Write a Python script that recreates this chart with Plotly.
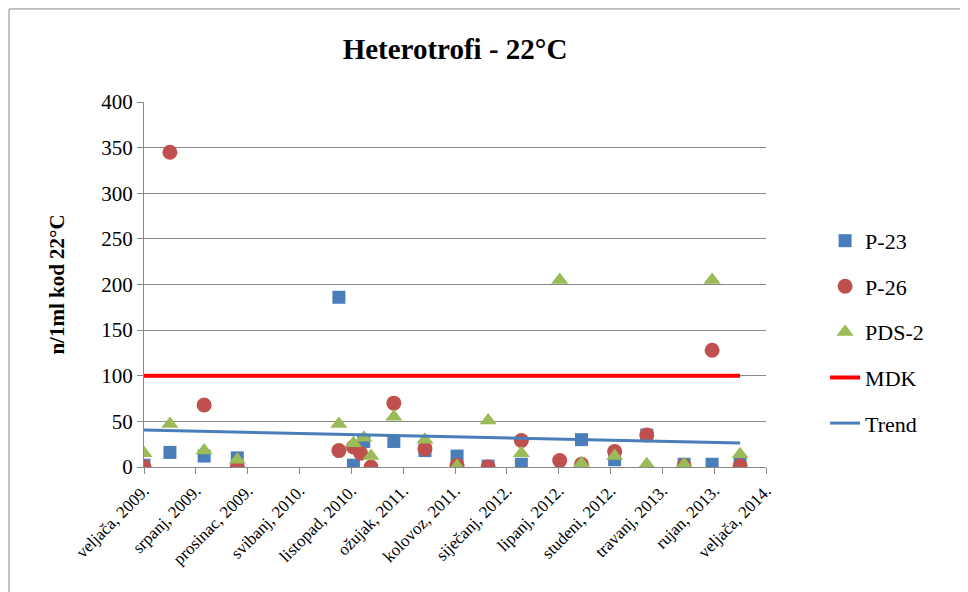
import plotly.graph_objects as go

# x = months after veljača 2009
tick_months = [0, 5, 10, 15, 20, 25, 30, 35, 40, 45, 50, 55, 60]
tick_labels = ["veljača, 2009.", "srpanj, 2009.", "prosinac, 2009.", "svibanj, 2010.",
               "listopad, 2010.", "ožujak, 2011.", "kolovoz, 2011.", "siječanj, 2012.",
               "lipanj, 2012.", "studeni, 2012.", "travanj, 2013.", "rujan, 2013.",
               "veljača, 2014."]

p23_x = [0, 2.5, 5.8, 9, 18.8, 20.2, 21.2, 24.1, 27.1, 30.2, 33.2, 36.4, 42.2, 45.4, 48.5, 52.1, 54.8, 57.5]
p23_y = [2, 16, 12, 10, 186, 2, 28, 28, 18, 12, 1, 3, 30, 8, 35, 3, 3, 3]

p26_x = [0, 2.5, 5.8, 9, 18.8, 20.2, 20.9, 21.9, 24.1, 27.1, 30.2, 33.2, 36.4, 40.1, 42.2, 45.4, 48.5, 52.1, 54.8, 57.5]
p26_y = [0, 345, 68, 0, 18, 22, 15, 0, 70, 20, 2, 0, 29, 7, 3, 17, 35, 1, 128, 1]

pds_x = [0, 2.5, 5.8, 9, 18.8, 20.2, 21.2, 21.9, 24.1, 27.1, 30.2, 33.2, 36.4, 40.1, 42.2, 45.4, 48.5, 52.1, 54.8, 57.5]
pds_y = [15, 47, 18, 8, 47, 26, 32, 12, 55, 30, 1, 51, 15, 205, 4, 12, 3, 3, 205, 14]

mdk_x = [0, 57.5]
mdk_y = [100, 100]
trend_x = [0, 57.5]
trend_y = [40.5, 26.3]

serif = "Liberation Serif"
fig = go.Figure()
fig.add_trace(go.Scatter(x=p23_x, y=p23_y, mode="markers", name="P-23", legendgroup="a",
                         marker=dict(symbol="square", size=13, color="#4a7ebb")))
fig.add_trace(go.Scatter(x=p26_x, y=p26_y, mode="markers", name="P-26", legendgroup="b",
                         marker=dict(symbol="circle", size=15, color="#c0504d")))
fig.add_trace(go.Scatter(x=pds_x, y=pds_y, mode="markers", name="PDS-2", legendgroup="c",
                         marker=dict(symbol="triangle-up", size=15, color="#9bbb59")))
fig.add_trace(go.Scatter(x=mdk_x, y=mdk_y, mode="lines", name="MDK", legendgroup="d",
                         line=dict(color="#ff0000", width=4)))
fig.add_trace(go.Scatter(x=trend_x, y=trend_y, mode="lines", name="Trend", legendgroup="e",
                         line=dict(color="#4a7ebb", width=3)))

fig.update_layout(
    width=968, height=592, paper_bgcolor="white", plot_bgcolor="white",
    margin=dict(l=136, r=210, t=94, b=133, autoexpand=False),
    font=dict(family=serif, color="black"),
    title=dict(text="<b>Heterotrofi - 22°C</b>", x=(136 + 311) / 968, xanchor="center",
               yref="container", y=1 - 41 / 592, yanchor="middle",
               font=dict(size=29, family=serif)),
    legend=dict(x=1.095, y=0.677, yanchor="top", font=dict(size=22, family=serif),
                traceorder="grouped", tracegroupgap=14),
    shapes=[dict(type="rect", xref="paper", yref="paper", x0=-0.217, x1=1.3135,
                 y0=-0.4, y1=1.255, line=dict(color="#888", width=1))],
)
fig.update_xaxes(range=[0, 60], tickvals=tick_months, ticktext=tick_labels, tickangle=-45,
                 showgrid=False, showline=True, linecolor="#888", ticks="outside",
                 tickcolor="#888", ticklen=6, tickfont=dict(size=17, family=serif),
                 automargin=False)
fig.update_yaxes(range=[0, 400], dtick=50, showgrid=True, gridcolor="#888", showline=True,
                 linecolor="#888", ticks="outside", tickcolor="#888", ticklen=6,
                 tickfont=dict(size=21, family=serif), zeroline=False, automargin=False,
                 title=dict(text="<b>n/1ml kod 22°C</b>", font=dict(size=21, family=serif),
                            standoff=30))
fig.write_html("out.html")
